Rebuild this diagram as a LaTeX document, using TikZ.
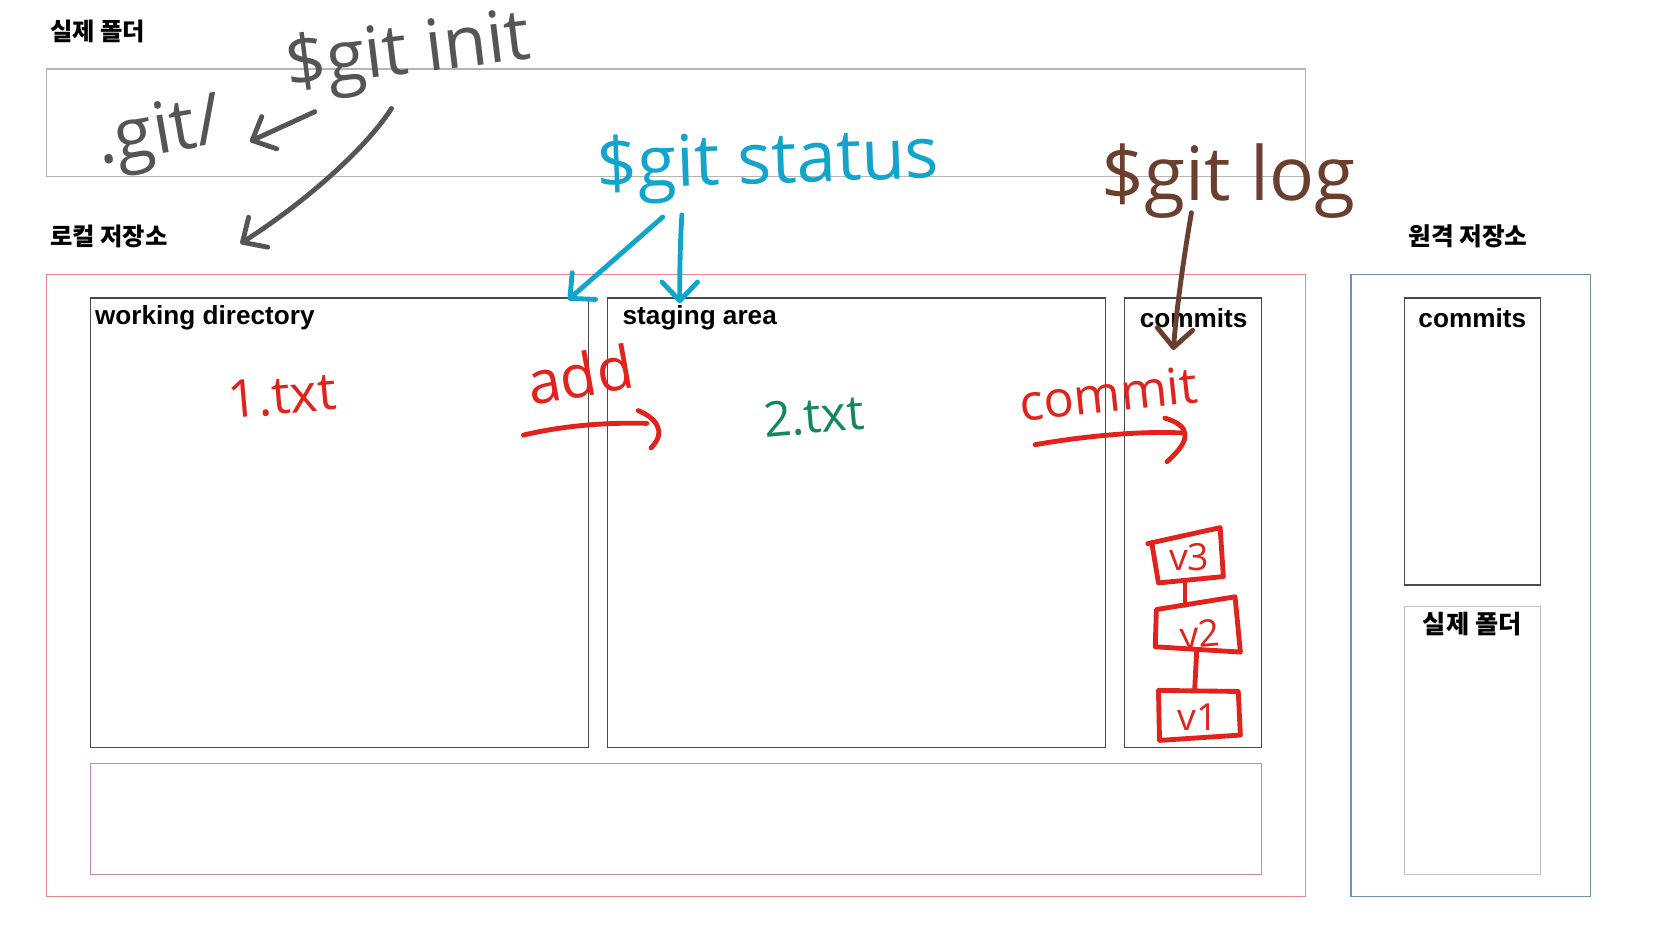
\documentclass[tikz,border=0pt]{standalone}
\usepackage{fontspec}
\setmainfont{Liberation Sans}
\newfontfamily\krfont{Noto Sans CJK KR}
\newfontfamily\handfont{Open Sans}
\usetikzlibrary{arrows.meta,fit}
\definecolor{penGray}{HTML}{555555}
\definecolor{penCyan}{HTML}{12A5CB}
\definecolor{penBrown}{HTML}{6B3F2F}
\definecolor{penRed}{HTML}{E2231D}
\definecolor{penGreen}{HTML}{15885A}
\definecolor{frameGray}{HTML}{B5B5B5}
\definecolor{frameRed}{HTML}{E98888}
\definecolor{framePink}{HTML}{C985B0}
\definecolor{frameBlue}{HTML}{6F8FB5}
\definecolor{innerGray}{HTML}{4A4A4A}
\definecolor{lightGray}{HTML}{C4C4C4}
\begin{document}
\begin{tikzpicture}[x=0.02cm,y=-0.02cm,
  boxframe/.style={draw=#1, line width=0.7pt, inner sep=0pt},
  lbl/.style={font=\fontsize{14}{16}\selectfont\bfseries, inner sep=0pt},
  krtitle/.style={font=\krfont\fontsize{#1}{14}\selectfont\bfseries, inner sep=0pt},
  handtxt/.style={text=#1, inner sep=0pt},
  penline/.style={draw=#1, line width=2.6pt, line cap=round, line join=round},
  barb/.style={-{Straight Barb[length=10pt,width=19pt,round]}},
]
\fill[white] (0,0) rectangle (1568,882);
\useasboundingbox (0,0) rectangle (1568,882);

% frames
\node[boxframe=frameGray, fit={(44,65) (1227,166)}] (topbox) {};
\node[boxframe=frameRed, fit={(44,258) (1227,843)}] (localbox) {};
\node[boxframe=innerGray, fit={(85,280) (553,703)}] (workdir) {};
\node[boxframe=innerGray, fit={(571,280) (1039,703)}] (staging) {};
\node[boxframe=innerGray, fit={(1057,280) (1186,703)}] (commitsL) {};
\node[boxframe=framePink, fit={(85,718) (1186,822)}] (pinkbox) {};
\node[boxframe=frameBlue, fit={(1270,258) (1495,843)}] (remotebox) {};
\node[boxframe=innerGray, fit={(1320,280) (1448,550)}] (commitsR) {};
\node[boxframe=lightGray, fit={(1320,570) (1448,822)}] (folderR) {};

% printed labels
\node[krtitle=13, anchor=west] (lblTop) at (47,30) {실제 폴더};
\node[krtitle=13, anchor=west] (lblLocal) at (47,222) {로컬 저장소};
\node[krtitle=13.2] (lblRemote) at (1380,222) {원격 저장소};
\node[lbl, anchor=west] (lblWork) at (89,299) {working directory};
\node[lbl, anchor=west] (lblStage) at (585,299) {staging area};
\node[lbl] (lblCommitsL) at (1122,299) {commits};
\node[lbl] (lblCommitsR) at (1384,299) {commits};
\node[krtitle=13.5] (lblFolderR) at (1384,587) {실제 폴더};

% handwritten texts
\node[handtxt=penGray, font=\handfont\fontsize{38}{38}\selectfont, rotate=7] (gitinit) at (384,52) {\$git init};
\node[handtxt=penGray, font=\handfont\fontsize{38}{38}\selectfont, rotate=10] (gitdir) at (150,128) {.git/};
\node[handtxt=penCyan, font=\handfont\fontsize{38}{38}\selectfont, rotate=2] (gitstatus) at (722,155) {\$git status};
\node[handtxt=penBrown, font=\handfont\fontsize{40}{40}\selectfont] (gitlog) at (1155,170) {\$git log};
\node[handtxt=penRed, font=\handfont\fontsize{32}{32}\selectfont, rotate=10] (add) at (545,352) {add};
\node[handtxt=penRed, font=\handfont\fontsize{27}{27}\selectfont, rotate=6] (commit) at (1042,370) {commit};
\node[handtxt=penRed, font=\handfont\fontsize{28}{28}\selectfont, rotate=5] (f1) at (265,372) {1.txt};
\node[handtxt=penGreen, font=\handfont\fontsize{26}{26}\selectfont, rotate=5] (f2) at (765,391) {2.txt};

% handwritten arrows
\coordinate (a1s) at (296,105); \coordinate (a1t) at (235,133);
\draw[penline=penGray, barb] (a1s) -- (a1t);
\coordinate (a2s) at (368,102); \coordinate (a2t) at (226,229);
\draw[penline=penGray, barb] (a2s) .. controls (345,138) and (290,188) .. (a2t);
\coordinate (c1s) at (623,204); \coordinate (c1t) at (534,282);
\draw[penline=penCyan, barb] (c1s) -- (c1t);
\coordinate (c2s) at (641,202); \coordinate (c2t) at (639,285);
\draw[penline=penCyan, barb] (c2s) .. controls (639,235) and (639,260) .. (c2t);
\coordinate (b1s) at (1120,200); \coordinate (b1t) at (1103,329);
\draw[penline=penBrown, barb] (b1s) .. controls (1113,240) and (1106,290) .. (b1t);

\coordinate (adds) at (492,409); \coordinate (addt) at (608,398);
\draw[penline=penRed] (adds) .. controls (530,400) and (570,397) .. (addt);
\draw[penline=penRed] (600,386) .. controls (615,392) and (628,405) .. (612,421);
\coordinate (coms) at (973,418); \coordinate (comt) at (1112,407);
\draw[penline=penRed] (coms) .. controls (1020,410) and (1070,405) .. (comt);
\draw[penline=penRed] (1095,393) .. controls (1118,400) and (1122,412) .. (1097,434);

% commit chain
\draw[penline=penRed] (1079,511) -- (1147,496) -- (1150,542) -- (1089,548) -- (1083,512);
\draw[penline=penRed] (1087,573) -- (1161,561) -- (1166,613) -- (1086,608) -- cycle;
\draw[penline=penRed] (1089,649) -- (1164,650) -- (1166,691) -- (1090,696) -- cycle;
\coordinate (v3b) at (1114,548); \coordinate (v2t) at (1114,569);
\coordinate (v2b) at (1125,611); \coordinate (v1t) at (1123,649);
\draw[penline=penRed] (v3b) -- (v2t);
\draw[penline=penRed] (v2b) -- (v1t);
\node[handtxt=penRed, font=\handfont\fontsize{20}{20}\selectfont] (v3) at (1118,524) {v3};
\node[handtxt=penRed, font=\handfont\fontsize{20}{20}\selectfont, rotate=5] (v2) at (1128,596) {v2};
\node[handtxt=penRed, font=\handfont\fontsize{20}{20}\selectfont] (v1) at (1126,674) {v1};
\end{tikzpicture}
\end{document}
